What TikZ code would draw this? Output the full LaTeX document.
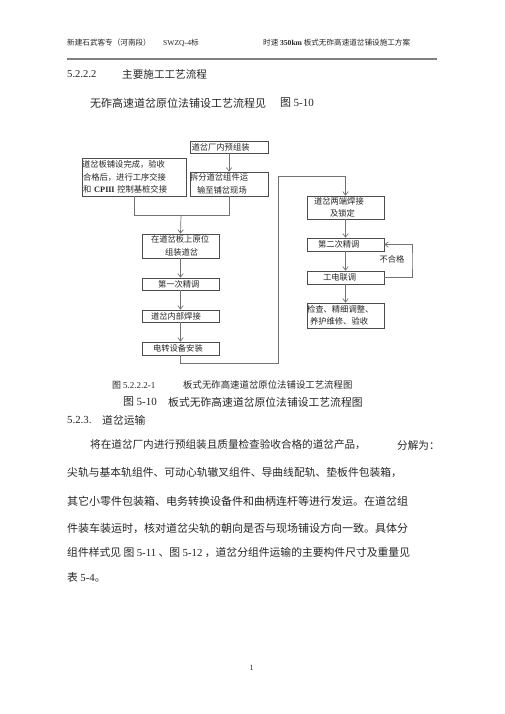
\documentclass[tikz,border=0pt]{standalone}
\usepackage{fontspec}
\setmainfont{Noto Sans CJK SC}
\newfontfamily\lat{Liberation Serif}
\usetikzlibrary{arrows.meta}
\newcommand\fsz[2]{\fontsize{#1}{#2}\selectfont}
\begin{document}
\begin{tikzpicture}[x=1pt,y=-1pt,
  every node/.style={inner sep=0pt, text=black!85},
  box/.style={draw=black!70, line width=0.7pt, inner xsep=0pt, inner ysep=0pt,
    align=left, font=\fsz{8.3}{12.5}},
  txt/.style={anchor=west, inner sep=0pt},
  ln/.style={draw=black!55, line width=0.7pt},
  arr/.style={ln, -{Straight Barb[length=3.5pt,width=5.5pt,line width=0.7pt]}}]
\useasboundingbox[fill=white] (0,0) rectangle (505,714);

% header
\node[txt, font=\fsz{7.6}{9}] (h1) at (67,43) {新建石武客专（河南段）};
\node[txt, font=\fsz{7.6}{9}] (h2) at (163,43) {{\lat SWZQ-4}标};
\node[txt, font=\fsz{7.6}{9}] (h3) at (263,43) {时速 {\lat\bfseries 350km} 板式无砟高速道岔铺设施工方案};
\draw[draw=black!50, line width=1.3pt] (67,59) -- (437,59);

% section heading
\node[txt, font=\fsz{10.6}{12}] (s1) at (67,74) {\lat 5.2.2.2};
\node[txt, font=\fsz{10.6}{12}] (s2) at (122,74) {主要施工工艺流程};
\node[txt, font=\fsz{11}{12}] (s3) at (90,103) {无砟高速道岔原位法铺设工艺流程见};
\node[txt, font=\fsz{11}{12}] (s4) at (280,103) {图 {\lat 5-10}};

% flowchart boxes
\node[box, text width=78pt, minimum height=12pt] (b1) at (229,147) {\hspace*{1.5pt}道岔厂内预组装};
\node[box, text width=104pt, minimum height=38pt] (b0) at (134,177)
  {道岔板铺设完成，验收\\\hspace*{1pt}合格后，进行工序交接\\\hspace*{1pt}和 {\lat\bfseries CP\kern0.3pt I\kern-0.3pt I\kern-0.3pt I} 控制基桩交接};
\node[box, text width=78pt, minimum height=24pt] (b2) at (229,184) {拆分道岔组件运\\\hspace*{7pt}输至铺岔现场};
\node[box, text width=77pt, minimum height=24pt] (b3) at (180.5,246) {\hspace*{9pt}在道岔板上原位\\\hspace*{23pt}组装道岔};
\node[box, text width=77pt, minimum height=12pt] (b4) at (180.5,284) {\hspace*{16pt}第一次精调};
\node[box, text width=77pt, minimum height=12pt] (b5) at (180.5,316) {\hspace*{9pt}道岔内部焊接};
\node[box, text width=77pt, minimum height=13pt] (b6) at (180.5,348.5) {\hspace*{11pt}电转设备安装};
\node[box, text width=77pt, minimum height=23pt] (b7) at (345.5,207.5) {\hspace*{7pt}道岔两端焊接\\\hspace*{23pt}及锁定};
\node[box, text width=77pt, minimum height=13pt] (b8) at (345.5,244.5) {\hspace*{11pt}第二次精调};
\node[box, text width=77pt, minimum height=13pt] (b9) at (345.5,277.5) {\hspace*{16pt}工电联调};
\node[box, text width=77pt, minimum height=25pt] (b10) at (345.5,315.5) {检查、精细调整、\\\hspace*{3pt}养护维修、验收};
\node[font=\fsz{8.3}{10}] (ng) at (392,259) {不合格};

% connectors
\coordinate (j) at (181,215);
\coordinate (c1) at (278,363);
\coordinate (c2) at (345.5,176);
\coordinate (c3) at (412,261);
\draw[arr] (b1) -- (b2);
\draw[ln] (b0.south) |- (b2.south |- j) -- (b2.south);
\draw[arr] (j) -- (b3.north);
\draw[arr] (b3) -- (b4);
\draw[arr] (b4) -- (b5);
\draw[arr] (b5) -- (b6);
\draw[arr] (b6.south) |- (c1) |- (c2) -- (b7.north);
\draw[arr] (b7) -- (b8);
\draw[arr] (b8) -- (b9);
\draw[arr] (b9) -- (b10);
\draw[arr] (b9.east) -| (c3) |- (b8.east);

% captions
\node[txt, font=\fsz{9}{10}] (f1) at (112,385) {图 {\lat 5.2.2.2-1}};
\node[txt, font=\fsz{9.4}{10}] (f2) at (183,385) {板式无砟高速道岔原位法铺设工艺流程图};
\node[txt, font=\fsz{11}{12}] (f3) at (123,402) {图 {\lat 5-10}};
\node[txt, font=\fsz{10.8}{12}] (f4) at (168,402) {板式无砟高速道岔原位法铺设工艺流程图};
\node[txt, font=\fsz{10.8}{12}] (s5) at (67,420) {\lat 5.2.3.};
\node[txt, font=\fsz{10.8}{12}] (s6) at (102,420) {道岔运输};

% body
\node[txt, font=\fsz{10.6}{12}] (p1) at (90,445) {将在道岔厂内进行预组装且质量检查验收合格的道岔产品，};
\node[txt, font=\fsz{10.6}{12}] (p1b) at (397,445) {分解为：};
\node[txt, font=\fsz{10.8}{12}] (p2) at (67,473) {尖轨与基本轨组件、可动心轨辙叉组件、导曲线配轨、垫板件包装箱，};
\node[txt, font=\fsz{11}{12}] (p3) at (67,501) {其它小零件包装箱、电务转换设备件和曲柄连杆等进行发运。在道岔组};
\node[txt, font=\fsz{11}{12}] (p4) at (67,528) {件装车装运时，核对道岔尖轨的朝向是否与现场铺设方向一致。具体分};
\node[txt, font=\fsz{10.8}{12}] (p5) at (67,553) {组件样式见 图 {\lat 5-11} 、图 {\lat 5-12} ，道岔分组件运输的主要构件尺寸及重量见};
\node[txt, font=\fsz{10.8}{12}] (p6) at (67,577) {表 {\lat 5-4}。};

\node[font=\fsz{8}{9}] (pg) at (251.5,668) {\lat 1};
\end{tikzpicture}
\end{document}
